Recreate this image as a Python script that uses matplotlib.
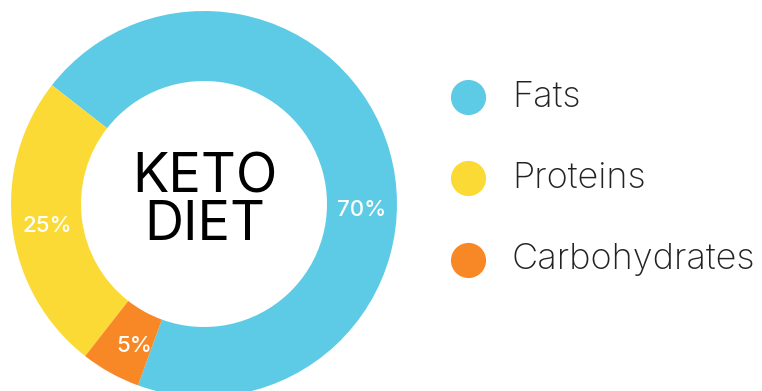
import numpy as np
import matplotlib.pyplot as plt

labels = ['Fats', 'Proteins', 'Carbohydrates']
shares = [70, 25, 5]
pct_labels = ['70%', '25%', '5%']
colors = ['#5ECBE6', '#FBDA35', '#F88726']
label_angles = [-2, 188, 244]  # where the % text sits on the ring

W, H = 762, 391
fig = plt.figure(figsize=(W / 100, H / 100), dpi=100)
ax = fig.add_axes([0, 0, 1, 1])

cx, cy, r_out, r_in = 204, H - 204, 193, 123
ax.pie(shares, colors=colors, startangle=-110, center=(cx, cy), radius=r_out,
       wedgeprops=dict(width=r_out - r_in, linewidth=0), frame=True)
ax.set_xlim(0, W)
ax.set_ylim(0, H)
ax.set_aspect('equal')
ax.axis('off')

font = 'Inter'
r_mid = (r_out + r_in) / 2
for txt, ang in zip(pct_labels, label_angles):
    a = np.deg2rad(ang)
    ax.text(cx + r_mid * np.cos(a), cy + r_mid * np.sin(a), txt,
            ha='center', va='center', color='white', fontsize=16,
            fontweight='medium', family=font)

ax.text(cx + 1, cy + 2, 'KETO\nDIET', ha='center', va='center', fontsize=39,
        family=font, fontweight='normal', color='black', linespacing=0.92)

leg_y = [H - 97, H - 178, H - 260]
for lab, col, y in zip(labels, colors, leg_y):
    ax.scatter([468], [y], s=640, color=col, linewidths=0)
    ax.text(512, y, lab, ha='left', va='center', fontsize=26,
            family=font, fontweight='light', color='#222222')

fig.savefig('out.png', dpi=100)
